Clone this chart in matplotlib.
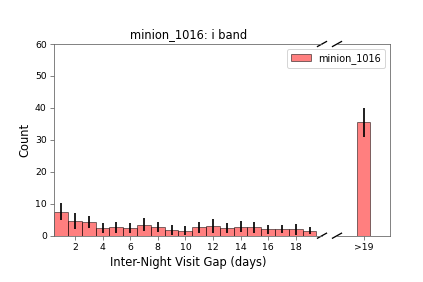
import matplotlib
matplotlib.use("Agg")
import matplotlib.pyplot as plt
import numpy as np

gaps = list(range(1, 20))
counts = [7.5, 4.5, 4.3, 2.3, 2.6, 2.5, 3.5, 2.7, 1.7, 1.6, 2.6, 3.0, 2.4, 2.8, 2.6, 2.0, 2.0, 2.0, 1.6]
errors = [2.6, 2.45, 1.8, 1.6, 1.6, 1.6, 2.1, 1.6, 1.5, 1.4, 1.6, 2.2, 1.5, 1.7, 1.8, 1.4, 1.2, 1.7, 1.2]
over_label = ">19"
over_count = 35.5
over_error = 4.5
series_name = "minion_1016"
title = "minion_1016: i band"

W, H = 423, 282
fig = plt.figure(figsize=(W / 72, H / 72), dpi=72)

def pos(l, r, t, b):
    return [l / W, 1 - b / H, (r - l) / W, (b - t) / H]

ax1 = fig.add_axes(pos(54.3, 322, 44, 235.7))
ax2 = fig.add_axes(pos(337, 390, 44, 235.7))

spine_col = "#666666"
bar_kw = dict(width=1.0, facecolor=(1, 0, 0, 0.5), edgecolor=(0, 0, 0, 0.5), linewidth=1.0)
err_kw = dict(ecolor="black", elinewidth=1.7, capsize=0)

ax1.bar(gaps, counts, yerr=errors, error_kw=err_kw, **bar_kw)
ax2.bar([0], [over_count], yerr=[over_error], error_kw=err_kw, label=series_name, **bar_kw)

ax1.set_xlim(0.5, 19.9)
ax1.set_ylim(0, 60)
ax2.set_xlim(-1.9, 1.9)
ax2.set_ylim(0, 60)

ax1.set_xticks(range(2, 20, 2))
ax1.set_yticks(range(0, 61, 10))
ax2.set_xticks([0])
ax2.set_xticklabels([over_label])
ax2.set_yticks([])

for ax in (ax1, ax2):
    for s in ax.spines.values():
        s.set_color(spine_col)
    ax.tick_params(colors=spine_col, labelcolor="black", labelsize=9.3, length=4)
ax1.spines["right"].set_visible(False)
ax2.spines["left"].set_visible(False)

ax1.set_title(title, fontsize=11.5)
ax1.set_xlabel("Inter-Night Visit Gap (days)", fontsize=11.5)
ax1.set_ylabel("Count", fontsize=11.5)

ax2.legend(loc="upper right", fontsize=9.8, handlelength=2.0)

# break marks
dxp, dyp = 4.5, 2.5
w1 = 322 - 54.3
w2 = 390 - 337
h = 235.7 - 44
for ax, xw, xe in ((ax1, w1, 1.0), (ax2, w2, 0.0)):
    dx = dxp / xw
    dy = dyp / h
    kw = dict(transform=ax.transAxes, color="k", clip_on=False, lw=1.3)
    for ye in (0.0, 1.0):
        ax.plot([xe - dx, xe + dx], [ye - dy, ye + dy], **kw)

fig.savefig("out.png", dpi=72)
